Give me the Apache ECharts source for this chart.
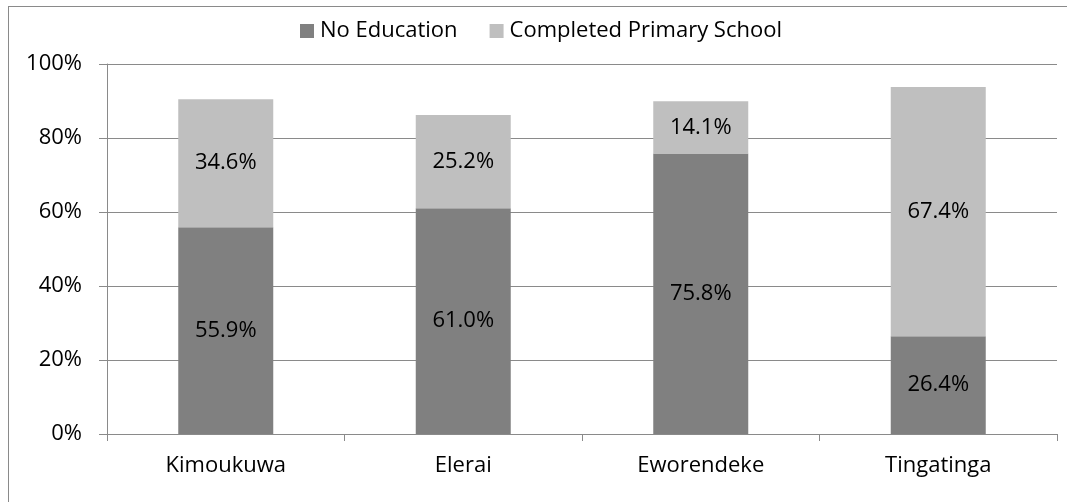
<!DOCTYPE html>
<html>
<head>
<meta charset="utf-8">
<script src="https://cdn.jsdelivr.net/npm/echarts@6/dist/echarts.min.js"></script>
<style>
  html, body { margin: 0; padding: 0; background: #fff; }
  #frame { position: absolute; left: 8px; top: 6px; width: 1100px; height: 540px;
           border: 1px solid #8a8a8a; box-sizing: border-box; }
  #chart { position: absolute; left: 0; top: 0; width: 1067px; height: 502px; }
</style>
</head>
<body>
<div id="frame"></div>
<div id="chart"></div>
<script>
// Villages surveyed
const categories = ['Kimoukuwa', 'Elerai', 'Eworendeke', 'Tingatinga'];
// Share of respondents (%) by education level
const noEducation = [55.9, 61.0, 75.8, 26.4];
const completedPrimary = [34.6, 25.2, 14.1, 67.4];
const seriesNames = ['No Education', 'Completed Primary School'];

const FONT = '"Open Sans", sans-serif';
const FS = 22;
const chart = echarts.init(document.getElementById('chart'), null, { renderer: 'canvas' });

const labelStyle = {
  show: true,
  position: 'inside',
  color: '#000',
  fontSize: FS,
  fontFamily: FONT,
  formatter: p => p.value.toFixed(1) + '%'
};

chart.setOption({
  animation: false,
  backgroundColor: 'transparent',
  legend: {
    top: 15,
    left: 295,
    itemWidth: 14,
    itemHeight: 14,
    itemGap: 32,
    icon: 'rect',
    textStyle: { fontSize: FS, fontFamily: FONT, color: '#000', padding: [0, 0, 0, 1] },
    data: seriesNames
  },
  grid: { left: 107, right: 10, top: 64, bottom: 68, containLabel: false },
  xAxis: {
    type: 'category',
    data: categories,
    axisLine: { lineStyle: { color: '#8a8a8a', width: 1 } },
    axisTick: { show: true, length: 7, lineStyle: { color: '#8a8a8a' } },
    axisLabel: { color: '#000', fontSize: FS, fontFamily: FONT, margin: 21 }
  },
  yAxis: {
    type: 'value',
    min: 0,
    max: 100,
    interval: 20,
    axisLine: { show: true, lineStyle: { color: '#8a8a8a', width: 1 } },
    axisTick: { show: true, length: 8, lineStyle: { color: '#8a8a8a' } },
    axisLabel: { color: '#000', fontSize: FS, fontFamily: FONT, margin: 25, formatter: v => v + '%' },
    splitLine: { lineStyle: { color: '#8a8a8a', width: 1 } }
  },
  series: [
    {
      name: seriesNames[0],
      type: 'bar',
      stack: 'edu',
      barWidth: '40%',
      itemStyle: { color: '#808080' },
      label: labelStyle,
      data: noEducation
    },
    {
      name: seriesNames[1],
      type: 'bar',
      stack: 'edu',
      barWidth: '40%',
      itemStyle: { color: '#bfbfbf' },
      label: labelStyle,
      data: completedPrimary
    }
  ]
});
</script>
</body>
</html>
